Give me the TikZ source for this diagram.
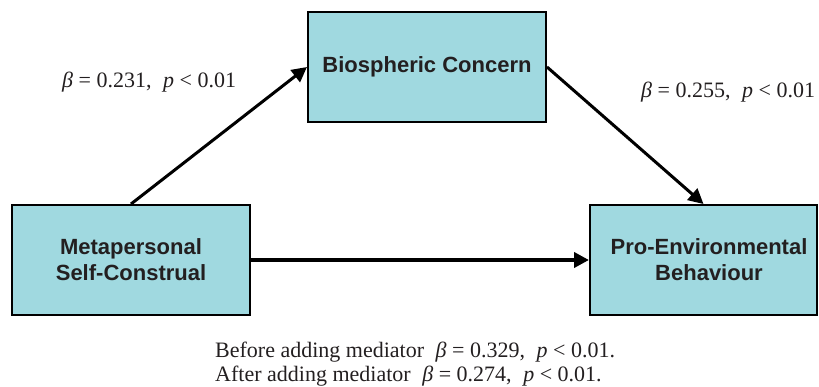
\documentclass[tikz,border=0pt]{standalone}
\usepackage{fontspec}
\setmainfont{Liberation Serif}
\setsansfont{Liberation Sans}
\usetikzlibrary{arrows.meta}
\definecolor{boxfill}{HTML}{A0D9E0}
\definecolor{txt}{HTML}{231F20}
\begin{document}
\begin{tikzpicture}[x=1pt,y=-1pt,
  box/.style={draw=black,line width=2pt,fill=boxfill,minimum width=238pt,minimum height=110pt,
    inner sep=0pt,align=center,text=txt,font=\sffamily\bfseries\fontsize{22}{26}\selectfont},
  boxtext/.style={inner sep=0pt,align=center,text=txt,font=\sffamily\bfseries\fontsize{22}{26}\selectfont},
  conn/.style={line width=3pt,-{Triangle[length=15pt,width=15pt]}},
  lab/.style={inner sep=0pt,text=txt,font=\fontsize{22}{24}\selectfont}]
\useasboundingbox (0,0) rectangle (819,387);
\node[box] (bc) at (427,67) {Biospheric Concern};
\node[box] (msc) at (131,260) {Metapersonal\\Self-Construal};
\node[box,minimum width=227pt] (peb) at (703.5,260) {};
\node[boxtext] (pebt) at (709,260) {Pro-Environmental\\Behaviour};
\draw[conn] (msc.north) -- (bc.west);
\draw[conn] (bc.east) -- (peb.north);
\draw[conn,line width=3.8pt] (msc.east) -- (peb.west);
\node[lab,anchor=west] (l1) at (62,82) {\textit{β} = 0.231,\; \textit{p} < 0.01};
\node[lab,anchor=west] (l2) at (641,92) {\textit{β} = 0.255,\; \textit{p} < 0.01};
\node[lab,anchor=west] (l3) at (215,352) {Before adding mediator\; \textit{β} = 0.329,\; \textit{p} < 0.01.};
\node[lab,anchor=west] (l4) at (215,376) {After adding mediator\; \textit{β} = 0.274,\; \textit{p} < 0.01.};
\end{tikzpicture}
\end{document}
